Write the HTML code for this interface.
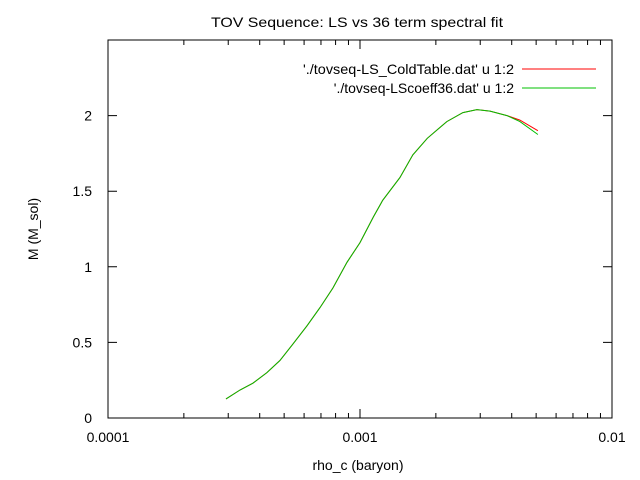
<!DOCTYPE html>
<html><head><meta charset="utf-8"><style>
body{margin:0;background:#fff}
svg{display:block;font-family:"Liberation Sans",sans-serif;font-size:14px}
</style></head><body>
<svg id="chart" width="640" height="480">
<text x="211" y="27" textLength="292" lengthAdjust="spacingAndGlyphs">TOV Sequence: LS vs 36 term spectral fit</text>
<rect x="108" y="40" width="504" height="378" fill="none" stroke="#000"/>
<g id="axes"></g>
<text x="358" y="470" text-anchor="middle">rho_c (baryon)</text>
<text transform="translate(38,229) rotate(-90)" text-anchor="middle">M (M_sol)</text>
<g>
<text x="303" y="74" textLength="211" lengthAdjust="spacingAndGlyphs">'./tovseq-LS_ColdTable.dat' u 1:2</text>
<line x1="522" y1="69" x2="596" y2="69" stroke="#ff0000"/>
<text x="514" y="93" text-anchor="end">'./tovseq-LScoeff36.dat' u 1:2</text>
<line x1="522" y1="88" x2="596" y2="88" stroke="#00c000"/>
</g>
<g id="series"></g>
</svg>
<script>
const rho=[2.94e-4,3.34e-4,3.76e-4,4.27e-4,4.81e-4,5.42e-4,6.16e-4,6.94e-4,7.81e-4,8.88e-4,1.0e-3,1.13e-3,1.23e-3,1.44e-3,1.62e-3,1.85e-3,2.21e-3,2.56e-3,2.91e-3,3.28e-3,3.83e-3,4.31e-3,5.08e-3];
const massLS=[0.126,0.185,0.23,0.30,0.38,0.49,0.61,0.73,0.86,1.03,1.16,1.33,1.44,1.59,1.74,1.85,1.96,2.02,2.04,2.03,2.0,1.97,1.90];
const massFit=[0.126,0.185,0.23,0.30,0.38,0.49,0.61,0.73,0.86,1.03,1.16,1.33,1.44,1.59,1.74,1.85,1.96,2.02,2.04,2.03,2.0,1.96,1.875];
const xTicks=[0.0001,0.001,0.01];
const xTickLabels=["0.0001","0.001","0.01"];
const yTicks=[0,0.5,1,1.5,2];
const yTickLabels=["0","0.5","1","1.5","2"];
const L=108,R=612,T=40,B=418;
const sx=v=>L+(Math.log10(v)+4)/2*(R-L);
const sy=v=>B-v/2.5*(B-T);
const NS="http://www.w3.org/2000/svg";
function mk(tag,attrs,parent){const e=document.createElementNS(NS,tag);for(const k in attrs)e.setAttribute(k,attrs[k]);parent.appendChild(e);return e;}
const ax=document.getElementById('axes');
yTicks.forEach((v,i)=>{const y=sy(v);
 let l=mk('path',{d:`M${L} ${y}h9M${R} ${y}h-9`,stroke:'#000'},ax);
 
 
 let t=mk('text',{x:L-16,y:y+5,'text-anchor':'end'},ax);t.textContent=yTickLabels[i];
 
 });
xTicks.forEach((v,i)=>{const x=sx(v);
 let l=mk('path',{d:`M${x} ${B}v-9M${x} ${T}v9`,stroke:'#000'},ax);
 
 
 let t=mk('text',{x:x,y:B+24,'text-anchor':'middle'},ax);t.textContent=xTickLabels[i];
 
 
 if(i<xTicks.length-1)for(let m=2;m<10;m++){const xm=sx(v*m);
  let n=mk('path',{d:`M${xm} ${B}v-5M${xm} ${T}v5`,stroke:'#000'},ax);
  
  }});
const sg=document.getElementById('series');
function line(ys,color,name){const d=rho.map((r,i)=>(i?'L':'M')+sx(r).toFixed(1)+' '+sy(ys[i]).toFixed(1)).join('');
 const p=mk('path',{d:d,fill:'none',stroke:color,'stroke-width':1},sg);
 
 }
line(massLS,'#ff0000','series-coldtable');
line(massFit,'#00c000','series-coeff36');
</script>
</body></html>
